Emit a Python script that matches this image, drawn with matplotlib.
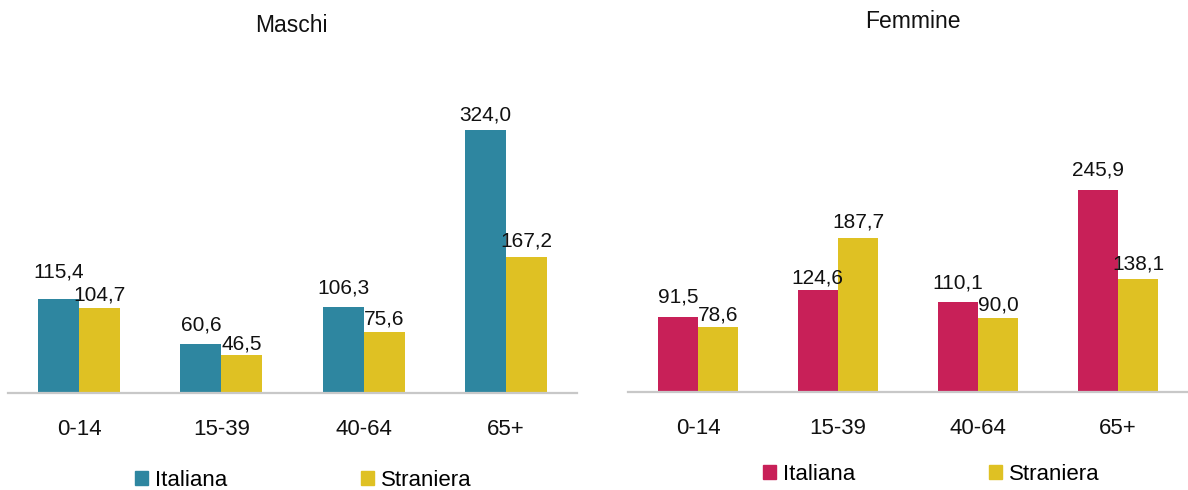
import matplotlib
matplotlib.use("Agg")
import matplotlib.pyplot as plt
from matplotlib.patches import Patch
import numpy as np

plt.rcParams['font.family'] = ['Liberation Sans', 'DejaVu Sans']

categories = ["0-14", "15-39", "40-64", "65+"]
series_names = ["Italiana", "Straniera"]

maschi_italiana = [115.4, 60.6, 106.3, 324.0]
maschi_straniera = [104.7, 46.5, 75.6, 167.2]
femmine_italiana = [91.5, 124.6, 110.1, 245.9]
femmine_straniera = [78.6, 187.7, 90.0, 138.1]

# label lift above each bar top (pixels, to the text centre), so that
# neighbouring labels stay clear of each other
lift_maschi = ([27, 19, 19, 15], [13, 11, 13, 16])
lift_femmine = ([20, 12, 19, 20], [12, 16, 13, 15])

TEAL = "#2E86A0"
CRIMSON = "#C82058"
YELLOW = "#DFC123"
AXIS_GREY = "#C8C8C8"

W, H = 1188, 490
fig = plt.figure(figsize=(W / 100, H / 100), dpi=100)


def fmt(v):
    return f"{v:.1f}".replace(".", ",")


def panel(x0, x1, base_y, px_per_unit, title, title_xy, ita, stra, ita_color,
          legend_xy, lifts):
    top_y = 40
    ax = fig.add_axes([x0 / W, (H - base_y) / H, (x1 - x0) / W, (base_y - top_y) / H])
    ax.set_ylim(0, (base_y - top_y) / px_per_unit)
    n = len(categories)
    ax.set_xlim(-0.5, n - 0.5)
    x = np.arange(n)
    bw = 0.288
    b1 = ax.bar(x - bw / 2, ita, bw, color=ita_color, label=series_names[0])
    b2 = ax.bar(x + bw / 2, stra, bw, color=YELLOW, label=series_names[1])
    for bars, vals, lift in ((b1, ita, lifts[0]), (b2, stra, lifts[1])):
        for r, v, dy in zip(bars, vals, lift):
            ax.annotate(fmt(v), (r.get_x() + r.get_width() / 2, v),
                        xytext=(0, dy * 0.72), textcoords="offset points",
                        ha="center", va="center", fontsize=15, color="#111111")
    for s in ("top", "left", "right"):
        ax.spines[s].set_visible(False)
    ax.spines["bottom"].set_color(AXIS_GREY)
    ax.spines["bottom"].set_linewidth(1.6)
    ax.set_yticks([])
    ax.set_xticks(x)
    ax.set_xticklabels(categories, fontsize=16, color="#111111")
    ax.tick_params(axis="x", length=0, pad=19)
    ax.patch.set_alpha(0)
    fig.text(title_xy[0] / W, 1 - title_xy[1] / H, title, ha="center",
             va="center", fontsize=16.5, color="#111111")
    handles = [Patch(color=ita_color), Patch(color=YELLOW)]
    fig.legend(handles, series_names, loc="center left",
               bbox_to_anchor=(legend_xy[0] / W, 1 - legend_xy[1] / H),
               ncol=2, frameon=False, fontsize=16, handlelength=0.6,
               handleheight=0.6, handletextpad=0.3, columnspacing=6.0,
               borderpad=0, borderaxespad=0)
    return ax


panel(8, 577, 393, (393 - 130) / 324.0, "Maschi", (291, 26),
      maschi_italiana, maschi_straniera, TEAL, (135, 480), lift_maschi)
panel(628, 1188, 392, (392 - 190) / 245.9, "Femmine", (913, 22),
      femmine_italiana, femmine_straniera, CRIMSON, (763, 474), lift_femmine)

fig.savefig("out.png", dpi=100)
